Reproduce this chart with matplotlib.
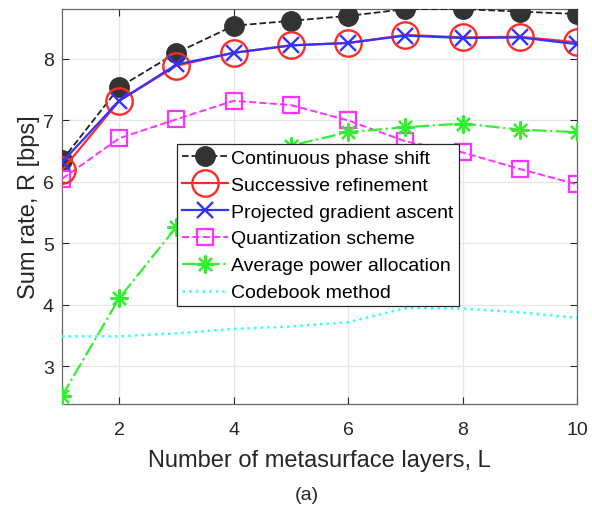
import numpy as np
import matplotlib
matplotlib.use('Agg')
import matplotlib.pyplot as plt

# ---------------------------------------------------------------------------
# Data
# ---------------------------------------------------------------------------

layers = [1, 2, 3, 4, 5, 6, 7, 8, 9, 10]
continuous = [6.35, 7.54, 8.10, 8.54, 8.62, 8.70, 8.81, 8.81, 8.77, 8.73]
successive = [6.19, 7.32, 7.89, 8.10, 8.22, 8.26, 8.39, 8.35, 8.36, 8.27]
projected = [6.32, 7.32, 7.91, 8.10, 8.22, 8.26, 8.38, 8.34, 8.35, 8.24]
quantization = [6.05, 6.71, 7.02, 7.32, 7.25, 7.00, 6.66, 6.48, 6.21, 5.96]
avg_power = [2.52, 4.11, 5.27, 6.00, 6.59, 6.81, 6.89, 6.95, 6.85, 6.81]
codebook = [3.49, 3.49, 3.54, 3.61, 3.65, 3.72, 3.95, 3.94, 3.88, 3.79]

series_labels = [
    'Continuous phase shift',
    'Successive refinement',
    'Projected gradient ascent',
    'Quantization scheme',
    'Average power allocation',
    'Codebook method',
]
x_ticks = [2, 4, 6, 8, 10]
y_ticks = [3, 4, 5, 6, 7, 8]

plt.rcParams['font.family'] = ['Liberation Sans', 'DejaVu Sans']

fig = plt.figure(figsize=(5.92, 5.06), dpi=100)
ax = fig.add_axes([0.1047, 0.1996, 0.8703, 0.7804])

ax.plot(layers, continuous, '--', color='#222222', linewidth=1.3,
        marker='o', markersize=14, markerfacecolor='#333333',
        markeredgecolor='#333333', label=series_labels[0], zorder=3)
ax.plot(layers, successive, '-', color='#ff2a2a', linewidth=1.6,
        marker='o', markersize=19, markerfacecolor='none',
        markeredgewidth=1.7, label=series_labels[1], zorder=4)
ax.plot(layers, projected, '-', color='#3333ff', linewidth=1.6,
        marker='x', markersize=12, markeredgewidth=1.7,
        label=series_labels[2], zorder=5)
ax.plot(layers, quantization, '--', color='#ff33ff', linewidth=1.4,
        marker='s', markersize=12, markerfacecolor='none',
        markeredgewidth=1.6, label=series_labels[3], zorder=3)
ax.plot(layers, avg_power, '-.', color='#33ee33', linewidth=1.6,
        marker=(8, 2, 0), markersize=13, markeredgewidth=1.6,
        label=series_labels[4], zorder=3)
ax.plot(layers, codebook, ':', color='#33ffff', linewidth=1.8,
        label=series_labels[5], zorder=3)

ax.set_xlim(1, 10)
ax.set_ylim(2.39, 8.81)
ax.set_xticks(x_ticks)
ax.set_yticks(y_ticks)
ax.tick_params(direction='in', top=True, right=True, labelsize=14,
               colors='#262626', length=5, width=0.8)
ax.tick_params(axis='x', pad=12)
ax.tick_params(axis='y', pad=6)
for spine in ax.spines.values():
    spine.set_color('#666666')
    spine.set_linewidth(0.9)
ax.grid(True, color='#e6e6e6', linewidth=0.9)
ax.set_axisbelow(True)

ax.set_xlabel('Number of metasurface layers, L', fontsize=17,
              color='#262626', labelpad=8)
ax.set_ylabel('Sum rate, R [bps]', fontsize=17, color='#262626',
              labelpad=2)

leg = ax.legend(loc='upper left', bbox_to_anchor=(0.223, 0.658), fontsize=14,
                handlelength=2.4, handletextpad=0.15, labelspacing=0.48,
                borderpad=0.25, borderaxespad=0, fancybox=False,
                framealpha=1, edgecolor='#262626')
leg.get_frame().set_linewidth(0.9)

fig.text(0.518, 0.02, '(a)', fontsize=14, color='#262626',
         ha='center', va='center')

fig.savefig('out.png', dpi=100)
